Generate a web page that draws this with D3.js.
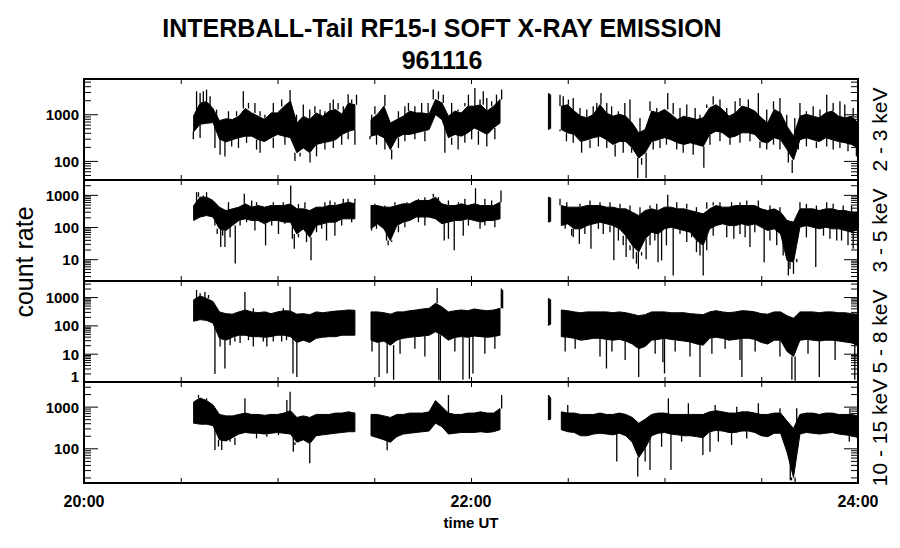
<!DOCTYPE html>
<html>
<head>
<meta charset="utf-8">
<script src="https://cdn.jsdelivr.net/npm/d3@7"></script>
<style>
  body { margin: 0; background: #fff; }
  text { font-family: "Liberation Sans", Arial, sans-serif; fill: #000; }
</style>
</head>
<body>
<div id="chart"></div>
<script>
// time of each bin, minutes after 20:00 UT (gaps split the trace)
var times = [34,36,38,40,42,44,46,48,50,52,54,56,58,60,62,64,66,68,70,72,74,76,78,80,82,84,
  89,91,93,95,97,99,101,103,105,107,109,111,113,115,117,119,121,123,125,127,129,
  144,144.7,
  148,150,152,154,156,158,160,162,164,166,168,170,172,174,176,178,180,182,184,186,188,190,
  192,194,196,198,200,202,204,206,208,210,212,214,216,218,220,222,224,226,228,230,232,234,236,238,240];

// 2 - 3 keV : upper / lower edge of the dense part of the trace in each bin
var p1Hi = [930,1730,1870,1330,730,800,770,910,1330,1070,910,770,1070,1070,1470,1930,650,910,770,1070,910,1170,1270,1000,1750,1600,
  770,1000,1490,650,770,910,1170,1070,1070,1000,2070,1750,910,1170,1070,1490,1490,1600,1170,1490,2070,
  2800,2600,
  1490,1600,1170,910,840,1000,1600,1070,910,1000,910,650,400,470,1170,1070,1270,1000,770,910,840,770,
  840,1370,1600,1270,910,1070,1490,1370,1170,840,650,1270,1070,555,340,910,1000,910,840,1070,1170,910,840,910,650];
var p1Lo = [420,610,640,665,295,255,285,315,340,340,285,260,315,370,340,315,150,190,150,225,245,260,285,370,430,470,
  340,370,315,175,315,370,370,400,435,470,985,765,315,370,340,400,510,435,370,510,650,
  470,500,
  470,400,370,260,285,315,340,285,225,260,260,190,115,150,260,285,315,285,245,225,245,225,
  205,370,435,400,315,340,400,400,370,260,245,315,285,175,105,285,315,285,260,315,285,260,245,225,190];
// single samples sticking out of the dense part [minute, counts]
var p1Spikes = [[34.9,3100],[36,2850],[37,3100],[38,3380],[39.1,2420],[41.1,1260],[44.8,1160],[47.3,1160],
  [49.4,3100],[51,1750],[53,1750],[54.6,1160],[56.1,980],[58.7,1750],[61.3,2060],[62.3,1365],[63.9,3300],
  [65.9,980],[68,1610],[70,1260],[71.6,1480],[73.2,1260],[74.7,1160],[76.3,1750],[77.3,2060],[78.8,1750],
  [80.4,1480],[81.9,2700],[83,2060],[84.5,2630],
  [33.9,290],[36,311],[40.6,190],[42.2,136],[43.7,125],[45.8,205],[47.9,190],[50.4,245],[53.5,175],
  [54.6,150],[58.7,190],[62.3,223],[65.4,99],[67,125],[70.1,93],[72.1,125],[74.7,175],[77.3,190],
  [79.9,223],[81.9,290],[84,223],
  [89.2,980],[90.2,1480],[93.3,2630],[97.5,1160],[99.5,1480],[100.6,1750],[102.6,1480],[104.7,1750],
  [106.7,1750],[108.3,3380],[109.9,3100],[111.4,2630],[114,1750],[116,1260],[118.1,1750],[119.2,2630],
  [121.2,3660],[122.8,2060],[123.8,3100],[124.9,2230],[126.4,1900],[127.9,2630],[129.5,3380],
  [88.7,290],[90.7,223],[93.3,175],[95.4,108],[97.5,190],[99.5,264],[102.6,290],[105.7,264],[111.9,150],
  [114,223],[116,175],[118.1,245],[120.2,290],[122.3,223],[124.9,205],[127.4,290],
  [147.6,2630],[148.6,2420],[150.2,2060],[151.7,2230],[153.8,1365],[155.9,1260],[157.9,1480],[159,1750],
  [160.3,2850],[162.1,1750],[163.6,1480],[165.7,1160],[167.7,1750],[169.3,2060],[172.4,833],[175.5,1900],
  [177.6,1365],[181,2850],[182.7,1750],[184.8,1365],[186.9,1610],[189.5,1365],[191,980],[193.1,1610],
  [195.1,2420],[197.2,2060],[199.3,1365],[201.9,1900],[203.4,2230],[206,2060],[209.1,2850],[211.7,1260],
  [213.8,1900],[215.8,2230],[217.9,980],[220.4,833],[222,1750],[224,1160],[226.1,1480],[228.2,1260],
  [230.3,2630],[232.3,1750],[234.4,1900],[235.9,1610],[238.5,1365],
  [147.6,432],[149.6,264],[151.7,245],[154.3,150],[156.9,190],[159.5,205],[162.1,190],[164.7,125],
  [167.2,150],[169.8,150],[171.7,43],[172.9,83],[174.3,43],[176.5,175],[178.6,190],[180.6,223],
  [183.8,175],[185.8,150],[188.9,136],[192.2,71],[194.1,223],[197.2,264],[200.3,223],[203.4,245],
  [206.5,264],[209.6,190],[211.7,175],[213.8,223],[215.8,175],[218.4,93],[219.6,55],[221.5,175],
  [224,205],[227.1,190],[230.3,205],[232.3,175],[234.4,190],[236.9,161],[239.5,125]];

// 3 - 5 keV
var p2Hi = [466,850,850,670,415,325,367,415,525,415,466,415,466,466,466,525,367,367,325,415,415,466,466,525,593,525,
  466,466,415,415,466,525,525,670,670,670,850,525,466,466,525,466,525,466,466,466,593,
  850,800,
  466,415,415,415,466,466,466,415,415,367,367,290,228,325,367,325,415,415,367,367,325,290,
  257,367,466,415,415,466,466,466,466,367,325,367,290,160,142,367,367,367,325,367,367,325,325,290,290];
var p2Lo = [160,205,228,205,88,78,111,160,180,160,160,126,160,160,142,142,61,88,48,111,126,142,142,180,180,180,
  88,126,88,38,111,142,160,205,205,205,180,126,142,160,160,180,160,142,160,160,180,
  142,150,
  111,126,88,88,111,126,142,126,111,88,54,27,16.6,43,69,61,88,99,88,78,69,38,
  27,88,111,126,111,111,126,111,126,99,78,88,61,9.2,8.1,99,111,99,88,99,88,88,78,69,88];
var p2Spikes = [[35.5,1213],[38,1213],[42.4,24],[43.7,24],[46.9,7.3],[49.7,1080],[56.3,27],[64.1,1945],
  [65.2,21],[70.4,9.2],[75.2,38],[77.8,54],[81.9,751],[94.3,27],[108.3,1080],[111.7,38],[114.8,19],
  [117.6,54],[121.4,1600],[122.8,88],[129.3,1370],[151.7,48],[153.6,30],[157.2,21],[164.3,9.2],
  [168.1,11.7],[171.9,5],[174.3,10],[178,8],[181,1000],[182.7,3.1],[192,3.1],[197.2,593],[201.5,43],
  [206.5,24],[210.9,8],[218.4,3.1],[220,3.5],[222,593],[226.9,5.7],[234.9,38],
  [34.9,1213],[37,950],[38.5,751],[44.8,593],[52,670],[53.5,593],[58.7,593],[61.8,593],[66.5,525],
  [68.5,593],[74.7,593],[76.3,670],[77.8,593],[80.4,751],[84,751],
  [40.6,111],[41.3,61],[43,54],[45.3,48],[48.4,111],[50.4,142],[53,78],[58.2,111],[60.3,61],[62.3,126],
  [64.6,43],[66.5,48],[69,34],[72.1,69],[73.7,88],[79.9,111],[83,142],
  [90.2,525],[93.3,466],[96.4,593],[98.5,525],[100.1,593],[103.7,751],[105.7,850],[109.9,850],[113,670],
  [116.1,593],[118.1,751],[124.3,751],[126.4,670],
  [89.2,78],[90.7,88],[93.8,38],[95.4,34],[97.5,69],[99.5,99],[103.7,142],[105.7,111],[113,43],
  [119.2,111],[124.3,111],[127.4,99],
  [149.2,88],[151.2,54],[155.3,61],[159.5,88],[161,61],[163.1,69],[165.7,38],[167.2,27],[169.3,19],
  [170.3,10.3],[171.3,7.3],[172.9,13],[175.5,27],[177,38],[179.1,9.2],[180.6,27],[184.8,61],[186.9,34],
  [188.4,48],[189.9,16.6],[191,13],[193.1,19],[195.1,54],[199.3,48],[203.4,61],[205,48],[208,69],
  [212.7,38],[214.8,27],[216.8,13],[218.9,5],[221,10.3],[224,48],[229.3,54],[231.3,43],[233.4,38],
  [236.9,27],[238.5,21],
  [147.6,751],[149.7,593],[153.8,525],[156.9,670],[160,593],[163.1,593],[166.2,525],[169.3,466],
  [172.4,415],[175.5,466],[177.6,525],[183.8,593],[186.9,525],[189.9,415],[193.1,593],[195.1,593],
  [200.8,593],[203.4,593],[205.5,670],[209.1,670],[212.7,466],[215.8,415],[224,525],[227.1,466],
  [230.3,593],[232.3,525],[235.4,466],[238,466]];

// 5 - 8 keV
var p3Hi = [800,1100,900,700,300,260,250,300,350,300,280,300,260,300,330,320,250,260,240,300,280,300,320,330,350,340,
  300,300,280,250,300,300,330,350,380,400,600,450,300,330,350,330,380,350,330,350,400,
  900,800,
  350,330,300,280,300,300,300,300,280,300,280,250,220,240,300,300,300,280,280,280,260,250,
  240,300,330,300,280,300,330,320,300,260,250,300,300,220,180,300,300,300,280,300,300,280,280,260,250];
var p3Lo = [140,160,150,120,35,30,38,45,45,40,40,38,40,45,45,40,25,30,25,35,38,40,40,45,45,45,
  30,25,28,20,30,35,38,40,42,45,60,45,30,38,40,38,42,40,38,40,45,
  100,110,
  40,38,35,30,32,35,35,32,30,32,28,22,15,18,30,32,35,32,30,28,26,22,
  20,35,38,35,30,32,35,35,32,25,22,30,30,12,8,30,32,30,28,30,30,28,26,24,20];
var p3Spikes = [[40.6,1.9],[43.7,3],[49.9,1500],[63.9,2300],[64.8,2],[66,1.5],[91.5,1.5],[94,2],[96,1.2],
  [110,1.2],[110.5,1.1],[109.5,2100],[117.5,1.2],[119.5,1.3],[120.6,2],[129.4,2000],[129.8,1800],[162,3],
  [172,1.5],[180,2],[191,1.5],[204,1.5],[219.5,1.2],[220.5,1.1],[228,1.5],[239,1.2],
  [42.2,18],[45.3,20],[46.8,27],[48.4,24],[51,30],[52.5,18],[55.6,27],[56.7,18],[58.7,27],[61.3,27],[62.8,30],
  [34.9,1780],[36,1360],[37.5,1500],[38.6,1190],[52.5,400],[56.7,305],[61.8,400],
  [149.2,12],[152.3,15],[160,8],[163.7,12],[167.8,6],[177.1,10],[179.5,5],[183.3,12],[187.9,8],[194.7,10],
  [198.8,15],[203.4,6],[208.1,12],[215.8,8],[224.5,10],[232.9,6],[89.3,12],[98,10],[102.6,15],[105.7,8],
  [115,12],[124.3,10],[127.4,15]];

// 10 - 15 keV
var p4Hi = [1300,1600,1400,1100,650,600,600,650,700,650,650,620,650,650,700,800,550,600,550,650,650,650,700,700,750,700,
  650,650,600,550,650,650,700,700,700,750,1400,1000,700,650,650,700,700,750,700,700,900,
  1900,1600,
  750,700,700,650,650,650,700,650,650,700,650,550,400,500,650,700,700,650,650,650,650,650,
  650,750,800,750,700,700,750,750,700,650,650,700,700,450,300,650,700,700,650,700,700,650,650,650,600];
var p4Lo = [400,380,380,350,160,150,180,220,240,230,230,220,230,240,230,220,140,160,130,200,210,220,230,240,250,250,
  200,180,160,140,190,220,230,240,250,260,400,330,220,230,240,240,240,250,240,250,280,
  480,500,
  280,250,240,200,200,220,230,220,210,230,200,140,60,100,200,230,240,220,210,200,200,190,
  180,250,270,260,240,240,260,260,240,200,190,230,230,80,20,220,240,230,220,230,240,220,210,200,180];
var p4Spikes = [[35.5,1900],[37,1440],[38,1580],[40.6,91],[41.7,110],[42.7,91],[45.3,144],[46.8,120],
  [49.9,1580],[53.5,173],[56.7,190],[60.3,209],[62.9,1440],[63.9,2280],[64.9,83],[65.4,120],[70,44],[94,90],
  [113,1900],[129.5,1900],[150,1100],[165.2,48],[171.7,21],[174,48],[175.5,30],[179.1,109],[181.2,1580],
  [182,30],[185.3,144],[187.4,1200],[191.9,69],[194.1,83],[195.7,1090],[196.7,144],[200.8,120],[202.4,1000],
  [205.5,173],[209.1,1200],[215.8,910],[219,17],[219.4,17],[220.5,15],[221,910],[237.3,144],[237.5,910]];

var channels = ["2 - 3 keV", "3 - 5 keV", "5 - 8 keV", "10 - 15 keV"];
var yDomains = [[39, 5700], [2.1, 2900], [1, 3700], [14.7, 3900]];
var yLabelValues = [[100, 1000], [10, 100, 1000], [1, 10, 100, 1000], [100, 1000]];
var xTickTimes = [30, 60, 90, 120, 150, 180, 210];
var xLabelTimes = [0, 120, 240];
var xLabels = ["20:00", "22:00", "24:00"];

var width = 900, height = 548;
var left = 84, right = 858, top0 = 79, panelH = 101;

var svg = d3.select("#chart").append("svg")
    .attr("width", width)
    .attr("height", height);

var x = d3.scaleLinear().domain([0, 240]).range([left, right]);

var panels = [
  { hi: p1Hi, lo: p1Lo, spikes: p1Spikes },
  { hi: p2Hi, lo: p2Lo, spikes: p2Spikes },
  { hi: p3Hi, lo: p3Lo, spikes: p3Spikes },
  { hi: p4Hi, lo: p4Lo, spikes: p4Spikes }
];

// split the bins into continuous pieces wherever there is a data gap
function pieces(p) {
  var out = [], cur = [];
  times.forEach(function (t, i) {
    if (i > 0 && t - times[i - 1] > 3) { out.push(cur); cur = []; }
    cur.push({ t: t, hi: p.hi[i], lo: p.lo[i] });
  });
  out.push(cur);
  return out;
}

panels.forEach(function (p, k) {
  var top = top0 + k * panelH, bottom = top + panelH;
  var y = d3.scaleLog().domain(yDomains[k]).range([bottom, top]);

  svg.append("clipPath").attr("id", "clip" + k)
    .append("rect").attr("x", left).attr("y", top).attr("width", right - left).attr("height", panelH);

  var g = svg.append("g").attr("clip-path", "url(#clip" + k + ")");

  var area = d3.area()
      .x(function (d) { return x(d.t); })
      .y0(function (d) { return y(d.lo); })
      .y1(function (d) { return y(d.hi); });

  g.selectAll("path.band")
    .data(pieces(p))
    .enter().append("path")
    .attr("class", "band")
    .attr("d", area)
    .attr("fill", "#000")
    .attr("stroke", "#000")
    .attr("stroke-width", 1);

  // single-sample excursions, drawn from the edge of the dense part
  g.selectAll("line.spike")
    .data(p.spikes)
    .enter().append("line")
    .attr("class", "spike")
    .attr("x1", function (d) { return x(d[0]); })
    .attr("x2", function (d) { return x(d[0]); })
    .attr("y1", function (d) {
      var i = d3.minIndex(times, function (t) { return Math.abs(t - d[0]); });
      return y(d[1] > p.hi[i] ? p.hi[i] : p.lo[i]);
    })
    .attr("y2", function (d) { return y(d[1]); })
    .attr("stroke", "#000")
    .attr("stroke-width", 1.3);

  // frame
  svg.append("rect")
    .attr("x", left).attr("y", top)
    .attr("width", right - left).attr("height", panelH)
    .attr("fill", "none").attr("stroke", "#000").attr("stroke-width", 1.2)
    .attr("shape-rendering", "crispEdges");

  // y ticks: majors with labels, minors at 2..9
  var majors = yLabelValues[k];
  var minors = [];
  var lo = Math.floor(Math.log10(yDomains[k][0])), hi = Math.ceil(Math.log10(yDomains[k][1]));
  for (var e = lo; e <= hi; e++) {
    for (var m = 2; m <= 9; m++) {
      var v = m * Math.pow(10, e);
      if (v > yDomains[k][0] && v < yDomains[k][1]) minors.push(v);
    }
  }

  var yl = svg.append("g").attr("transform", "translate(" + left + ",0)")
    .call(d3.axisLeft(y).tickValues(majors).tickSize(-14).tickPadding(5).tickFormat(d3.format("d")));
  yl.select(".domain").remove();
  yl.selectAll("text").style("font-size", "15px").style("font-weight", "bold")
    .attr("dy", function (d) { return d === 1 ? "-0.05em" : "0.36em"; });

  svg.append("g").attr("transform", "translate(" + left + ",0)")
    .call(d3.axisLeft(y).tickValues(minors).tickSize(-7).tickFormat(""))
    .select(".domain").remove();
  svg.append("g").attr("transform", "translate(" + right + ",0)")
    .call(d3.axisRight(y).tickValues(majors).tickSize(-14).tickFormat(""))
    .select(".domain").remove();
  svg.append("g").attr("transform", "translate(" + right + ",0)")
    .call(d3.axisRight(y).tickValues(minors).tickSize(-7).tickFormat(""))
    .select(".domain").remove();

  // x ticks on top and bottom of every panel
  svg.append("g").attr("transform", "translate(0," + top + ")")
    .call(d3.axisTop(x).tickValues(xTickTimes).tickSize(-5).tickFormat(""))
    .select(".domain").remove();
  svg.append("g").attr("transform", "translate(0," + bottom + ")")
    .call(d3.axisBottom(x).tickValues(xTickTimes).tickSize(-5).tickFormat(""))
    .select(".domain").remove();

  // energy channel on the right
  svg.append("text")
    .attr("transform", "translate(887," + (top + panelH / 2) + ") rotate(-90)")
    .attr("text-anchor", "middle")
    .style("font-size", "21px")
    .text(channels[k]);
});

svg.selectAll(".tick line").attr("stroke", "#000").attr("stroke-width", 1);

// time labels
svg.selectAll("text.xlab")
  .data(xLabelTimes)
  .enter().append("text")
  .attr("class", "xlab")
  .attr("x", function (d) { return x(d); })
  .attr("y", 507)
  .attr("text-anchor", "middle")
  .style("font-size", "16px")
  .style("font-weight", "bold")
  .text(function (d, i) { return xLabels[i]; });

svg.append("text")
  .attr("x", x(120)).attr("y", 528)
  .attr("text-anchor", "middle")
  .style("font-size", "15px").style("font-weight", "bold")
  .text("time UT");

svg.append("text")
  .attr("transform", "translate(33,262) rotate(-90)")
  .attr("text-anchor", "middle")
  .style("font-size", "25px")
  .text("count rate");

// title
svg.append("text")
  .attr("x", 442).attr("y", 37)
  .attr("text-anchor", "middle")
  .style("font-size", "25px").style("font-weight", "bold")
  .text("INTERBALL-Tail RF15-I SOFT X-RAY EMISSION");
svg.append("text")
  .attr("x", 442).attr("y", 69)
  .attr("text-anchor", "middle")
  .style("font-size", "25px").style("font-weight", "bold")
  .text("961116");
</script>
</body>
</html>
